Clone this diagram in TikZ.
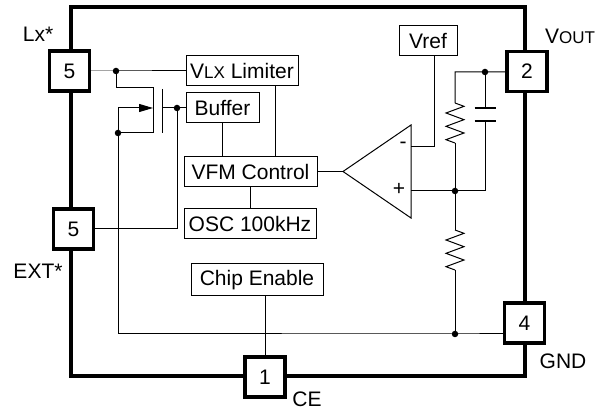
\documentclass[tikz,border=0pt]{standalone}
\usepackage{fontspec}
\setmainfont{Liberation Sans}
\usetikzlibrary{arrows.meta}

\newcommand{\lowcaps}[1]{{\fontsize{17}{19}\selectfont #1}}

\begin{document}
\begin{tikzpicture}[x=1pt, y=-1pt, font=\fontsize{21}{25}\selectfont]
        % Setup the styles for the blocks, pins and wires
        \tikzset{block style/.style={draw,
                                     line width=1pt,
                                     minimum height=30pt,
                                     inner sep=2pt},
                 pin style/.style={draw,
                                   line width=3.5pt,
                                   fill=white,
                                   minimum size=40pt,
                                   inner sep=0pt},
                 wire/.style={line width=1pt},
                 dot/.style={circle, fill, inner sep=0pt, minimum size=6.5pt},
                 res/.pic={\draw[wire] (0,0) -- ++(9,3.33) -- ++(-18,6.67) -- ++(18,6.67)
                                 -- ++(-18,6.67) -- ++(18,6.67) -- ++(-18,6.67) -- ++(9,3.33);}}

        \useasboundingbox (0,0) rectangle (595,411);

        % Draw the chip outline
        \draw[line width=3.5pt] (71,7) rectangle (525,376);

        % Draw the pins
        \node[pin style] at (69.5, 71)   (lx)   {5};
        \node[pin style] at (73.5, 229)  (ext)  {5};
        \node[pin style] at (265, 377)   (ce)   {1};
        \node[pin style] at (527, 71.5)  (vout) {2};
        \node[pin style] at (524.5, 323) (gnd)  {4};

        \node at (38, 34)   (lxlabel)   {Lx*};
        \node at (38, 271)  (extlabel)  {EXT*};
        \node at (307, 399) (celabel)   {CE};
        \node at (570, 36)  (voutlabel) {V\lowcaps{OUT}};
        \node at (563, 361) (gndlabel)  {GND};

        % Draw the blocks
        \node[block style, minimum width=112pt] at (242, 71)    (limiter) {V\lowcaps{LX} Limiter};
        \node[block style, minimum width=73pt]  at (222.5, 108) (buffer)  {Buffer};
        \node[block style, minimum width=133pt] at (250.5, 171.5) (vfm)   {VFM Control};
        \node[block style, minimum width=132pt] at (250, 224)   (osc)     {OSC 100kHz};
        \node[block style, minimum width=132pt, minimum height=32pt] at (257, 280) (enable) {Chip Enable};
        \node[block style, minimum width=58pt]  at (428, 41)    (vref)    {Vref};

        % Switch transistor
        \coordinate (lxdot)   at (116, 71);
        \coordinate (drain)   at (153, 88);
        \coordinate (source)  at (153, 133);
        \coordinate (srcdot)  at (118, 133);
        \coordinate (bulk)    at (153, 108);
        \coordinate (gatetop) at (162, 89);
        \coordinate (gatebot) at (162, 133);
        \coordinate (gatedot) at (177, 108);

        % Error amplifier
        \coordinate (amptip)  at (343, 171.5);
        \coordinate (amptop)  at (411, 125);
        \coordinate (ampbot)  at (411, 218);
        \coordinate (ampminus) at (411, 147);
        \coordinate (ampplus)  at (411, 191);
        \node at (403, 145) (minus) {-};
        \node at (399, 189) (plus)  {+};

        % Feedback network
        \coordinate (plusdot) at (455, 191);
        \coordinate (capdot)  at (485, 72);
        \coordinate (gnddot)  at (455, 334);
        \coordinate (r1top)   at (455, 103);
        \coordinate (r1bot)   at (455, 143);
        \coordinate (r2top)   at (455, 230);
        \coordinate (r2bot)   at (455, 270);
        \coordinate (captop)  at (485, 108);
        \coordinate (capbot)  at (485, 121);
        \coordinate (limtap)  at ([xshift=33pt]limiter.south);
        \coordinate (vreftap) at ([xshift=6pt]vref.south);

        % Connect everything with wires
        \draw[wire] (lx) -- (lxdot) -- (limiter);
        \draw[wire] (lxdot) |- (drain) -- (source) -- (srcdot);
        \draw[wire, -{Triangle[length=14pt, width=8pt]}] (srcdot) |- (bulk);
        \draw[wire] (gatetop) -- (gatebot);
        \draw[wire] (gatetop |- bulk) -- (buffer);
        \draw[wire] (gatedot) |- (ext);
        \draw[wire] (srcdot) |- (gnddot) -- (gnd.west |- gnddot);
        \draw[wire] (ce |- enable.south) -- (ce);

        \draw[wire] (buffer.south) -- (buffer.south |- vfm.north);
        \draw[wire] (limtap) -- (limtap |- vfm.north);
        \draw[wire] (osc.north) -- (osc.north |- vfm.south);
        \draw[wire] (vfm) -- (amptip);
        \draw[wire] (amptip) -- (amptop) -- (ampbot) -- cycle;
        \draw[wire] (ampminus) -| (vreftap);

        \draw[wire] (vout) -- (capdot) -| (r1top);
        \pic at (r1top) {res};
        \draw[wire] (r1bot) -- (plusdot);
        \draw[wire] (capdot) -- (captop);
        \draw[line width=1.5pt] ([xshift=-10.5pt]captop) -- ([xshift=10.5pt]captop)
                                ([xshift=-10.5pt]capbot) -- ([xshift=10.5pt]capbot);
        \draw[wire] (capbot) |- (plusdot);
        \draw[wire] (ampplus) -- (plusdot) -- (r2top);
        \pic at (r2top) {res};
        \draw[wire] (r2bot) -- (gnddot);

        % Junction dots
        \foreach \d in {lxdot, srcdot, gatedot, capdot, plusdot, gnddot}
            \node[dot] (\d-mark) at (\d) {};
\end{tikzpicture}
\end{document}
